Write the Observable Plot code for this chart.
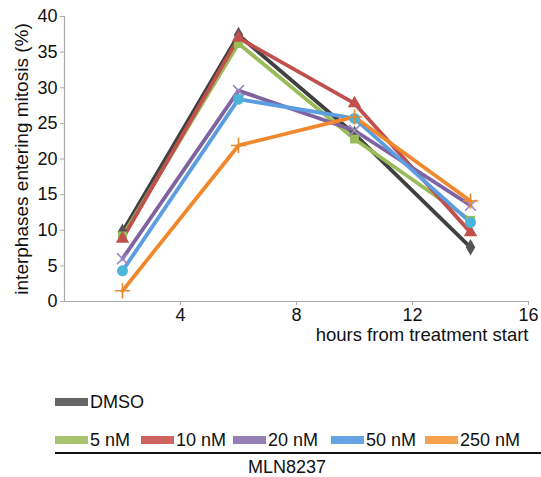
<!DOCTYPE html>
<html><head><meta charset="utf-8">
<script src="https://cdn.jsdelivr.net/npm/d3@7"></script>
<script src="https://cdn.jsdelivr.net/npm/@observablehq/plot@0.6"></script>
<style>
body{margin:0;background:#fff;font-family:"Liberation Sans",Arial,sans-serif;}
#wrap{position:relative;width:541px;height:477px;}
.sw{position:absolute;height:8px;}
.lt{position:absolute;font-size:18px;color:#111;line-height:18px;}
</style></head>
<body><div id="wrap"></div>
<script>
const hours = [2, 6, 10, 14];
const seriesNames = ["DMSO", "5 nM", "10 nM", "20 nM", "50 nM", "250 nM"];
const dmso = [9.8, 37.4, 23.5, 7.6];
const nM5 = [9.2, 36.2, 22.8, 11.4];
const nM10 = [8.8, 37.0, 27.8, 9.7];
const nM20 = [6.0, 29.6, 24.0, 13.5];
const nM50 = [4.3, 28.4, 25.7, 11.1];
const nM250 = [1.5, 21.9, 25.9, 14.1];
const lineColors = ["#404040", "#9bbb59", "#c0504d", "#8064a2", "#5a9de0", "#f0892e"];
const markColors = ["#555555", "#9bbb59", "#c0504d", "#9c88c0", "#4bb5d8", "#e8892e"];
const swatchColors = ["#666666", "#a9c46d", "#cd6460", "#9480b4", "#65a3e3", "#f9a24f"];
const symbols = ["diamond", "square", "triangle", "times", "circle", "plus"];
const allValues = [dmso, nM5, nM10, nM20, nM50, nM250];

const rows = [];
seriesNames.forEach((s, i) => hours.forEach((h, j) => rows.push({series: s, idx: i, h, v: allValues[i][j]})));

const plot = Plot.plot({
  width: 541, height: 360,
  marginTop: 16, marginLeft: 64, marginRight: 13, marginBottom: 59,
  style: {fontFamily: "'Liberation Sans', Arial, sans-serif", background: "#fff"},
  x: {domain: [0, 16]},
  y: {domain: [0, 40]},
  marks: [
    Plot.ruleX([0], {stroke: "#aaa", strokeWidth: 1.2}),
    Plot.ruleY([0], {stroke: "#aaa", strokeWidth: 1.2}),
    Plot.axisY({ticks: d3.range(0, 41, 5), tickSize: 4, tickPadding: 3, stroke: "#aaa", fontSize: 18, fill: "#111", label: null}),
    Plot.axisX({ticks: [4, 8, 12, 16], tickSize: 4, tickPadding: 3, stroke: "#aaa", fontSize: 18, fill: "#111", label: null}),
    Plot.text(["interphases entering mitosis (%)"], {frameAnchor: "left", textAnchor: "middle", dx: -43, rotate: -90, fontSize: 19, fill: "#111"}),
    Plot.text(["hours from treatment start"], {x: 16, y: 0, textAnchor: "end", dy: 34, dx: 0, fontSize: 18.5, fill: "#111"}),
    ...seriesNames.map((s, i) => Plot.line(rows.filter(d => d.idx === i), {x: "h", y: "v", stroke: lineColors[i], strokeWidth: 3.8})),
    ...seriesNames.map((s, i) => Plot.dot(rows.filter(d => d.idx === i), {x: "h", y: "v", symbol: symbols[i], r: (i === 4 ? 5.5 : 5), fill: (i === 3 || i === 5) ? "none" : markColors[i], stroke: (i === 3 || i === 5) ? markColors[i] : "none", strokeWidth: 1.6}))
  ]
});
const wrap = document.getElementById("wrap");
wrap.appendChild(plot);

const legendPos = [
  {sx: 55, y: 402},
  {sx: 55, y: 440}, {sx: 141, y: 440}, {sx: 233, y: 440}, {sx: 331, y: 440}, {sx: 425, y: 440}
];
seriesNames.forEach((s, i) => {
  const p = legendPos[i];
  const sw = document.createElement("div");
  sw.className = "sw";
  sw.style.left = p.sx + "px"; sw.style.top = (p.y - 4) + "px"; sw.style.width = "33px";
  sw.style.background = swatchColors[i];
  wrap.appendChild(sw);
  const t = document.createElement("div");
  t.className = "lt"; t.textContent = s;
  t.style.left = (p.sx + 35) + "px"; t.style.top = (p.y - 9) + "px";
  wrap.appendChild(t);
});
const hr = document.createElement("div");
hr.style.cssText = "position:absolute;left:55px;top:452px;width:486px;height:2px;background:#111;";
wrap.appendChild(hr);
const grp = document.createElement("div");
grp.className = "lt"; grp.textContent = "MLN8237";
grp.style.left = "0px"; grp.style.width = "574px"; grp.style.textAlign = "center"; grp.style.top = "458px";
wrap.appendChild(grp);
</script></body></html>
